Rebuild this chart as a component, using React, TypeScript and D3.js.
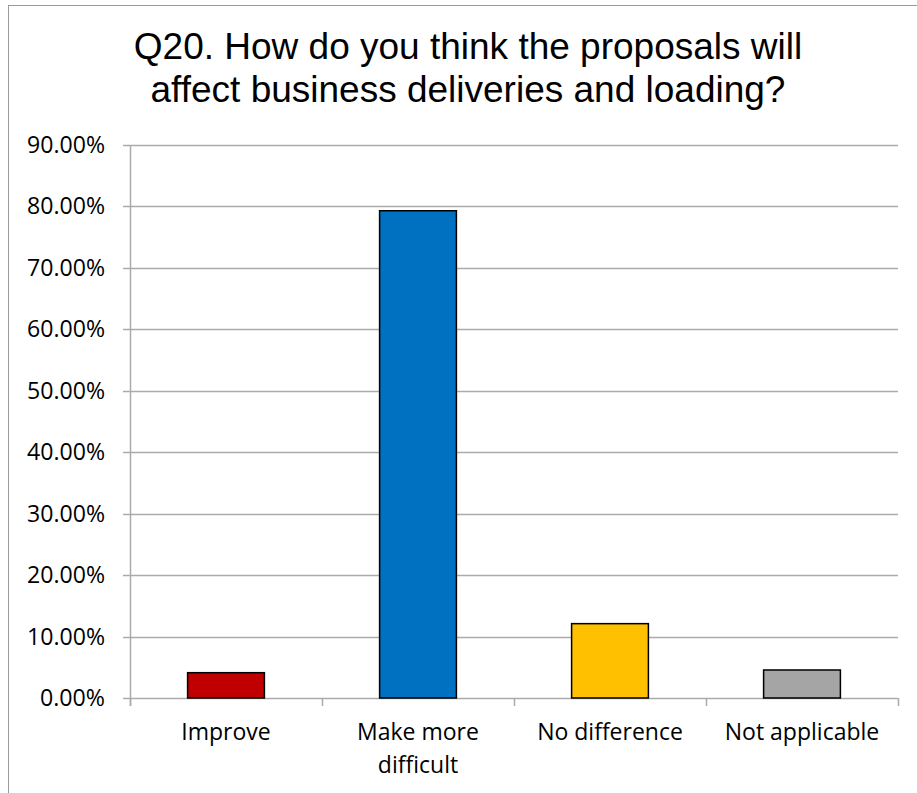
import React from "react";
import * as d3 from "d3";

const categories = ["Improve", "Make more difficult", "No difference", "Not applicable"];
const categoryLines = [["Improve"], ["Make more", "difficult"], ["No difference"], ["Not applicable"]];
const values = [4.12, 79.3, 12.1, 4.56];
const colors = ["#C00000", "#0070C0", "#FFC000", "#A5A5A5"];
const yTicks = [0, 10, 20, 30, 40, 50, 60, 70, 80, 90];
const titleLines = ["Q20. How do you think the proposals will", "affect business deliveries and loading?"];

export default function App() {
  const W = 917, H = 793;
  const left = 130, right = 898, top = 145, bottom = 698;
  const x = d3.scaleBand<string>().domain(categories).range([left, right]).paddingInner(0.6).paddingOuter(0.3);
  const y = d3.scaleLinear().domain([0, 90]).range([bottom, top]);
  const bandEdges = d3.range(categories.length + 1).map((i) => left + i * (right - left) / categories.length);
  const grid = "#ababab";
  const labelFont = "'Open Sans', sans-serif";
  return (
    <svg width={W} height={H} style={{ position: "absolute", left: 0, top: 0 }}>
      <rect x={0} y={0} width={W} height={H} fill="#fff" />
      <rect x={8.5} y={5.5} width={W + 20} height={H + 20} fill="none" stroke="#9a9a9a" strokeWidth={1} />
      {titleLines.map((t, i) => (
        <text key={i} x={468} y={59 + i * 43} textAnchor="middle" fontFamily="'Liberation Sans', Arial, sans-serif" fontSize={37} fill="#000">
          {t}
        </text>
      ))}
      {yTicks.map((t) => {
        const label = d3.format(".2f")(t) + "%";
        return (
          <g key={t}>
            <line x1={123} x2={right} y1={Math.round(y(t)) + 0.5} y2={Math.round(y(t)) + 0.5} stroke={grid} strokeWidth={1.5} />
            <text x={105} y={y(t) + 8} textAnchor="end" fontFamily={labelFont} fontSize={23} fill="#000"
              textLength={label.length === 6 ? 78 : 65} lengthAdjust="spacingAndGlyphs">
              {label}
            </text>
          </g>
        );
      })}
      <line x1={left + 0.5} x2={left + 0.5} y1={top} y2={bottom + 8} stroke={grid} strokeWidth={1.5} />
      {bandEdges.map((e, i) => (
        <line key={i} x1={e + 0.5} x2={e + 0.5} y1={bottom} y2={bottom + 8} stroke={grid} strokeWidth={1.5} />
      ))}
      {categories.map((c, i) => (
        <rect key={c} x={x(c)!} y={y(values[i])} width={x.bandwidth()} height={y(0) - y(values[i])} fill={colors[i]} stroke="#000" strokeWidth={1.5} />
      ))}
      {categories.map((c, i) => (
        <text key={c} textAnchor="middle" fontFamily={labelFont} fontSize={23} fill="#000">
          {categoryLines[i].map((l, j) => (
            <tspan key={j} x={x(c)! + x.bandwidth() / 2} y={740 + j * 33}>{l}</tspan>
          ))}
        </text>
      ))}
    </svg>
  );
}
